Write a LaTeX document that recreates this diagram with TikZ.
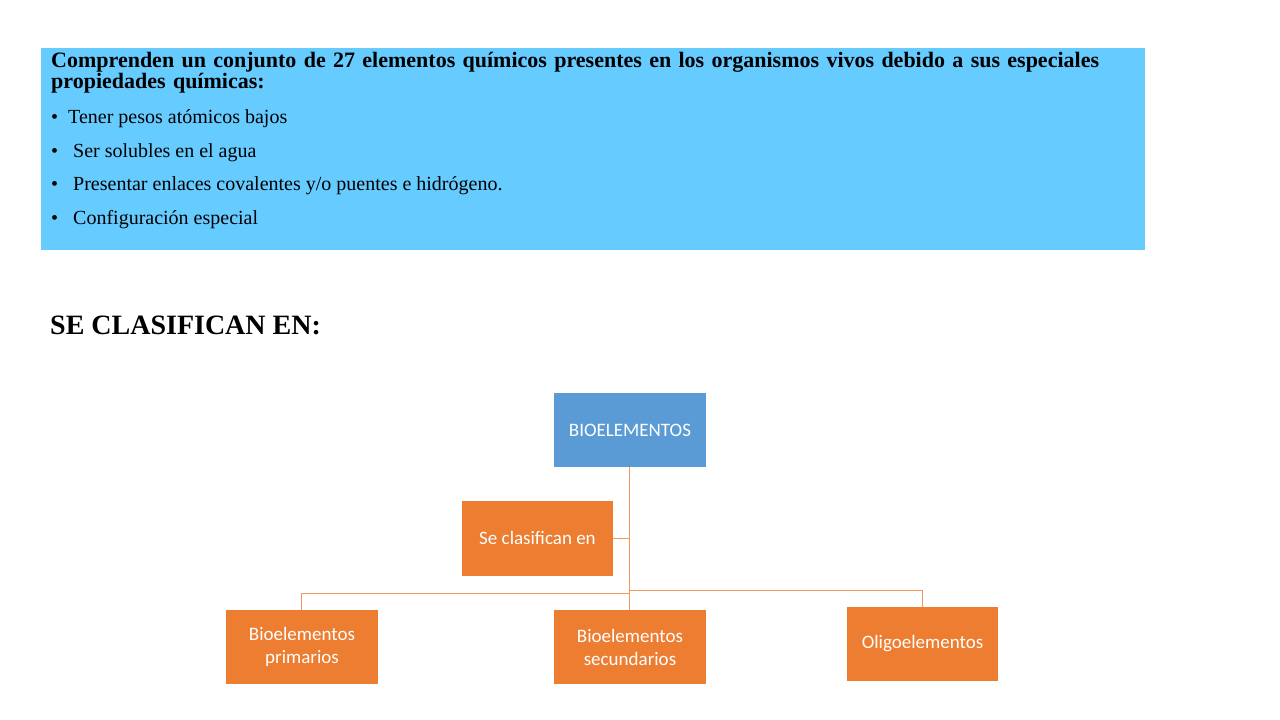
\documentclass[tikz,border=0pt]{standalone}
\usepackage{fontspec}
\setmainfont{Liberation Serif}
\newfontfamily\calib{Carlito}
\definecolor{lblue}{HTML}{66CBFF}
\definecolor{mblue}{HTML}{5B9BD5}
\definecolor{orng}{HTML}{ED7D31}
\begin{document}
\begin{tikzpicture}[x=1pt,y=-1pt,
  bx/.style={inner sep=0pt,text=white,align=center,font=\calib\fontsize{19}{23}\selectfont},
  ln/.style={draw=orng!80,line width=1pt}]
\useasboundingbox (0,0) rectangle (1280,720);
\fill[lblue] (41,48) rectangle (1145,250);
\node[anchor=north west,inner sep=0pt,text width=1085pt,align=left,font=\bfseries\fontsize{22}{19}\selectfont] (t) at (51,52) {Comprenden un conjunto de 27 elementos químicos presentes en los organismos vivos debido a sus especiales propiedades químicas:};
\node[anchor=west,inner sep=0pt,font=\fontsize{20}{24}\selectfont] (b1) at (51,119) {\textbullet\ \ Tener pesos atómicos bajos};
\node[anchor=west,inner sep=0pt,font=\fontsize{20}{24}\selectfont] (b2) at (51,153) {\textbullet\ \ \ Ser solubles en el agua};
\node[anchor=west,inner sep=0pt,font=\fontsize{20}{24}\selectfont] (b3) at (51,186) {\textbullet\ \ \ Presentar enlaces covalentes y/o puentes e hidrógeno.};
\node[anchor=west,inner sep=0pt,font=\fontsize{20}{24}\selectfont] (b4) at (51,220) {\textbullet\ \ \ Configuración especial};
\node[anchor=west,inner sep=0pt,font=\bfseries\fontsize{28}{32}\selectfont] (h) at (50,325) {SE CLASIFICAN EN:};
\fill[mblue] (554,393) rectangle (706,467);
\node[bx] (bio) at (630,430) {BIOELEMENTOS};
\fill[orng] (462,501) rectangle (613,576);
\node[bx] (se) at (537.5,538) {Se clasifican en};
\fill[orng] (226,610) rectangle (378,684);
\node[bx] (p) at (302,647) {Bioelementos\\primarios};
\fill[orng] (554,610) rectangle (706,684);
\node[bx] (s) at (630,647) {Bioelementos\\secundarios};
\fill[orng] (847,607) rectangle (998,681);
\node[bx] (o) at (922.5,644) {Oligoelementos};
\coordinate (top) at (629,467);
\coordinate (bot) at (629,610);
\draw[ln] (top) -- (bot);
\draw[ln] (613,538) -- (629,538);
\draw[ln] (629,593) -- (301,593) -- (301,610);
\draw[ln] (629,590) -- (922,590) -- (922,607);
\end{tikzpicture}
\end{document}
